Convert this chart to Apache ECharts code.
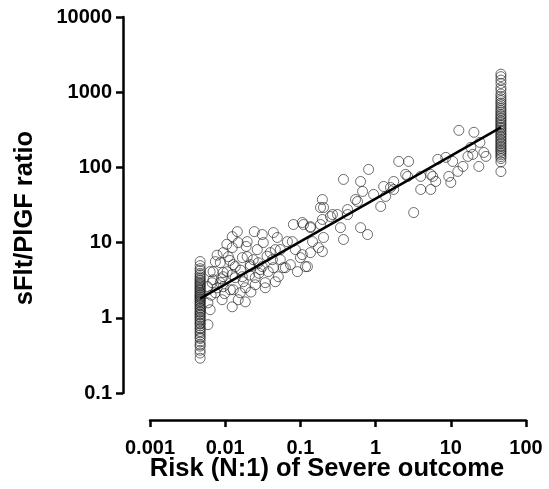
<!DOCTYPE html>
<html><head><meta charset="utf-8">
<script src="https://cdn.jsdelivr.net/npm/echarts@6/dist/echarts.min.js"></script>
<style>html,body{margin:0;padding:0;background:#fff}#c{width:549px;height:489px}</style>
</head><body><div id="c"></div>
<script>
const xTickLabels = ['0.001', '0.01', '0.1', '1', '10', '100'];
const yTickLabels = ['0.1', '1', '10', '100', '1000', '10000'];

const lowRiskX = 0.00464;
const lowRiskY = [0.29, 0.34, 0.37, 0.42, 0.44, 0.48, 0.53, 0.55, 0.59, 0.63, 0.66, 0.71, 0.73, 0.78, 0.83, 0.85, 0.91, 0.94, 1.0, 1.03, 1.09, 1.12, 1.18, 1.21, 1.27, 1.33, 1.37, 1.45, 1.49, 1.56, 1.63, 1.67, 1.75, 1.79, 1.87, 1.91, 1.99, 2.04, 2.13, 2.19, 2.29, 2.35, 2.46, 2.54, 2.66, 2.74, 2.86, 2.95, 3.1, 3.2, 3.36, 3.5, 3.72, 3.9, 4.25, 4.5, 4.95, 5.6];

const highRiskX = 46.4;
const highRiskY = [88, 118, 131, 139, 147, 154, 163, 169, 178, 187, 194, 206, 214, 226, 235, 249, 259, 273, 284, 301, 314, 331, 344, 363, 379, 401, 418, 442, 460, 487, 508, 541, 568, 603, 638, 684, 718, 772, 818, 884, 948, 1060, 1150, 1310, 1450, 1610, 1740];

const midX = [0.0244, 0.0145, 0.0124, 0.0149, 0.0196, 0.0321, 0.0437, 0.0493, 0.0671, 0.0807, 0.106, 0.136, 0.185, 0.203, 0.196, 0.374, 0.341, 0.631, 0.782, 0.267, 0.424, 0.185, 0.575, 0.0858, 0.0541, 0.0398, 0.0236, 0.0169, 0.0094, 0.0086, 0.0069, 0.0106, 0.0136, 0.0174, 0.0215, 0.0293, 0.0374, 0.0464, 0.0341, 0.0251, 0.0185, 0.0124, 0.0091, 0.0063, 0.0059, 0.0593, 0.0736, 0.0912, 0.124, 0.1, 0.136, 0.174, 0.0541, 0.0117, 0.0158, 0.0086, 0.0067, 0.0074, 0.0094, 0.0196, 0.0267, 0.0128,
  12.8, 20.3, 24.4, 27.5, 23.6, 29.3, 18.5, 16.9, 14.5, 12.4, 10.6, 8.58, 6.71, 9.4, 10, 6.31, 5.75, 3.98, 5.41, 3.98, 3.21, 2.67, 2.75, 2.03, 1.74, 1.58, 1.28, 1.36, 1.17, 0.94, 0.807, 0.631, 0.671, 0.541, 0.374, 0.424, 0.311, 0.251, 0.196, 0.203, 0.196, 0.136, 0.11, 0.145, 0.106, 0.117,
  19.6, 5.41, 2.51, 1.74,
  0.0781, 0.0464, 0.011, 0.0074, 0.0136, 0.0215, 0.0311, 0.0437, 0.0631, 0.0509, 0.0094, 0.0124, 0.0169, 0.0251, 0.0341, 0.0069, 0.0063, 0.0094, 0.0128, 0.0185, 0.0149, 0.0059, 0.0424, 0.0311, 0.0124,
  0.0105, 0.0078, 0.0089, 0.0115, 0.016, 0.021, 0.0275, 0.036, 0.0078, 0.0065, 0.0098, 0.0058, 0.022, 0.028, 0.019];
const midY = [14.0, 14.0, 12.0, 10.0, 10.3, 10.0, 13.6, 11.7, 10.3, 17.4, 18.5, 15.8, 17.4, 11.7, 7.6, 11.0, 15.8, 15.8, 12.8, 23.6, 23.6, 29.3, 35.2, 8.07, 8.07, 7.36, 5.93, 6.31, 7.36, 5.41, 4.11, 4.11, 3.42, 3.02, 4.79, 4.37, 4.11, 3.02, 2.51, 2.75, 1.63, 1.40, 1.74, 1.28, 0.81, 4.64, 5.09, 4.11, 4.79, 6.31, 7.36, 8.58, 5.93, 2.36, 2.15, 2.93, 2.93, 2.15, 3.52, 6.5, 8.07, 5.09,
  311, 293, 215, 158, 103, 140, 185, 140, 103, 88.5, 120, 136, 128, 75.9, 63.1, 65, 75.9, 75.9, 50.9, 50.9, 25.1, 75.9, 120, 120, 65, 54.1, 55.8, 41.1, 30.2, 43.7, 94, 65, 47.9, 37.4, 69.2, 27.5, 23.6, 22.2, 37.4, 29.3, 20.3, 16.3, 17.4, 10.3, 6.92, 4.79,
  149, 80.7, 80.7, 50.9,
  10.3, 8.07, 6.5, 5.58, 4.79, 5.09, 4.79, 4.64, 4.64, 3.52, 4.0, 3.74, 3.52, 3.42, 2.93, 3.21, 4.11, 2.59, 2.36, 2.51, 1.74, 1.58, 5.93, 12.8, 8.58,
  9.5, 6.8, 3.3, 5.8, 4.3, 3.7, 5.4, 6.6, 2.5, 2.0, 2.1, 2.6, 2.2, 3.9, 8.9];

const fitX = [0.00464, 46.4];
const fitY = [1.8, 340];

const points = [];
lowRiskY.forEach(v => points.push([lowRiskX, v]));
midX.forEach((x, i) => points.push([x, midY[i]]));
highRiskY.forEach(v => points.push([highRiskX, v]));
const fitLine = fitX.map((x, i) => [x, fitY[i]]);

const FONT = 'Arial, "Liberation Sans", Helvetica, sans-serif';
const chart = echarts.init(document.getElementById('c'), null, {renderer: 'canvas'});
const axisCommon = {
  type: 'log', logBase: 10, offset: 27,
  splitLine: {show: false}, minorTick: {show: false}, minorSplitLine: {show: false},
  axisLine: {show: true, lineStyle: {color: '#000', width: 2.5}},
  axisTick: {show: true, inside: false, length: 7, lineStyle: {color: '#000', width: 2.5}},
  nameLocation: 'middle', nameMoveOverlap: false
};
chart.setOption({
  animation: false,
  backgroundColor: '#fff',
  grid: {left: 150, right: 23, top: 17, bottom: 96, containLabel: false},
  xAxis: Object.assign({}, axisCommon, {
    min: 0.001, max: 100, position: 'bottom',
    name: 'Risk (N:1) of Severe outcome', nameGap: 36,
    nameTextStyle: {fontFamily: FONT, fontWeight: 'bold', fontSize: 25.5, color: '#000', padding: [0, 22, 0, 0]},
    axisLabel: {margin: 18, fontFamily: FONT, fontWeight: 'bold', fontSize: 20, color: '#000',
      formatter: v => xTickLabels[Math.round(Math.log10(v)) + 3]}
  }),
  yAxis: Object.assign({}, axisCommon, {
    min: 0.1, max: 10000, position: 'left',
    name: 'sFlt/PlGF ratio', nameGap: 85,
    nameTextStyle: {fontFamily: FONT, fontWeight: 'bold', fontSize: 25.5, color: '#000', padding: [0, 26, 0, 0]},
    axisLabel: {margin: 11, fontFamily: FONT, fontWeight: 'bold', fontSize: 20, color: '#000',
      formatter: v => yTickLabels[Math.round(Math.log10(v)) + 1]}
  }),
  series: [
    {type: 'scatter', data: points, symbol: 'circle', symbolSize: 10,
      itemStyle: {color: 'rgba(0,0,0,0)', borderColor: 'rgba(30,30,30,0.8)', borderWidth: 1}, z: 2},
    {type: 'line', data: fitLine, symbol: 'none', lineStyle: {color: '#000', width: 2.5}, z: 3}
  ]
});
</script></body></html>
